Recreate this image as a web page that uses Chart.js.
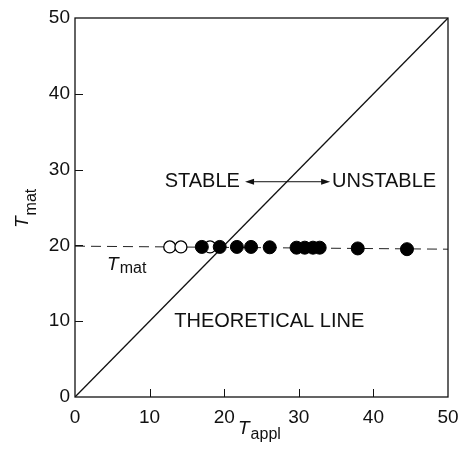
<!DOCTYPE html>
<html>
<head>
<meta charset="utf-8">
<script src="https://cdn.jsdelivr.net/npm/chart.js@4"></script>
<style>
  html, body { margin: 0; padding: 0; background: #fff; }
  canvas { display: block; }
</style>
</head>
<body>
<canvas id="myChart" width="460" height="456" style="width:460px;height:456px"></canvas>
<script>
// tick values on both axes
var tickValues = [0, 10, 20, 30, 40, 50];

// theoretical line T_mat = T_appl
var theoryX = [0, 50];
var theoryY = [0, 50];

// measured T_mat level (dashed)
var tmatLineX = [0, 50];
var tmatLineY = [19.9, 19.5];

// open circles (stable)
var openX = [12.7, 14.2, 18.1];
var openY = [19.8, 19.8, 19.8];

// filled circles (unstable)
var filledX = [17.0, 19.4, 21.7, 23.6, 26.1, 29.7, 30.8, 31.9, 32.8, 37.9, 44.5];
var filledY = [19.8, 19.8, 19.8, 19.8, 19.75, 19.7, 19.7, 19.7, 19.7, 19.6, 19.5];

function pts(xs, ys) {
  return xs.map(function (x, i) { return { x: x, y: ys[i] }; });
}

var FONT = '"Liberation Sans", Arial, Helvetica, sans-serif';

// frame, inward ticks, labels with subscripts
var overlay = {
  id: 'overlay',
  afterDraw: function (chart) {
    var c = chart.ctx, a = chart.chartArea;
    var xs = chart.scales.x, ys = chart.scales.y;
    c.save();
    c.strokeStyle = '#111';
    c.lineWidth = 1.3;
    c.strokeRect(a.left, a.top, a.right - a.left, a.bottom - a.top);

    c.lineWidth = 1;
    tickValues.slice(1, -1).forEach(function (v) {
      var px = Math.round(xs.getPixelForValue(v)) + 0.5;
      c.beginPath(); c.moveTo(px, a.bottom); c.lineTo(px, a.bottom - 8); c.stroke();
      var py = Math.round(ys.getPixelForValue(v)) + 0.5;
      c.beginPath(); c.moveTo(a.left, py); c.lineTo(a.left + 8, py); c.stroke();
    });

    c.fillStyle = '#111';
    c.textBaseline = 'middle';
    c.font = '20px ' + FONT;

    // STABLE <-> UNSTABLE
    var yA = ys.getPixelForValue(28.4);
    c.textAlign = 'right';
    c.fillText('STABLE', xs.getPixelForValue(22.1), yA);
    c.textAlign = 'left';
    c.fillText('UNSTABLE', xs.getPixelForValue(34.45), yA);
    var x1 = xs.getPixelForValue(22.8), x2 = xs.getPixelForValue(34.2);
    c.beginPath(); c.moveTo(x1 + 6, yA); c.lineTo(x2 - 6, yA); c.stroke();
    c.beginPath(); c.moveTo(x1, yA); c.lineTo(x1 + 9, yA - 3); c.lineTo(x1 + 9, yA + 3); c.closePath(); c.fill();
    c.beginPath(); c.moveTo(x2, yA); c.lineTo(x2 - 9, yA - 3); c.lineTo(x2 - 9, yA + 3); c.closePath(); c.fill();

    // THEORETICAL LINE
    c.fillText('THEORETICAL LINE', xs.getPixelForValue(13.3), ys.getPixelForValue(10.0));

    // T_mat label in plot
    c.textBaseline = 'alphabetic';
    var tx = xs.getPixelForValue(4.3), ty = ys.getPixelForValue(16.75);
    c.font = 'italic 19px ' + FONT;
    c.fillText('T', tx, ty);
    var tw = c.measureText('T').width;
    c.font = '16px ' + FONT;
    c.fillText('mat', tx + tw + 1, ty + 3);

    // x axis title T_appl
    c.font = 'italic 19px ' + FONT;
    c.fillText('T', 238, 434);
    tw = c.measureText('T').width;
    c.font = '16px ' + FONT;
    c.fillText('appl', 238 + tw + 1, 439);

    // y axis title T_mat (rotated)
    c.translate(28, 228);
    c.rotate(-Math.PI / 2);
    c.font = 'italic 19px ' + FONT;
    c.fillText('T', 0, 0);
    tw = c.measureText('T').width;
    c.font = '16px ' + FONT;
    c.fillText('mat', tw + 1, 8);
    c.restore();
  }
};

var ctx = document.getElementById('myChart');
var myChart = new Chart(ctx, {
  type: 'scatter',
  data: {
    datasets: [
      {
        data: pts(filledX, filledY),
        backgroundColor: '#000',
        borderColor: '#000',
        borderWidth: 1,
        pointRadius: 6.5,
        order: 0
      },
      {
        data: pts(openX, openY),
        backgroundColor: '#fff',
        borderColor: '#000',
        borderWidth: 1.3,
        pointRadius: 6,
        order: 1
      },
      {
        type: 'line',
        data: pts(tmatLineX, tmatLineY),
        borderColor: '#222',
        borderWidth: 1,
        borderDash: [10, 6],
        pointRadius: 0,
        fill: false,
        order: 2
      },
      {
        type: 'line',
        data: pts(theoryX, theoryY),
        borderColor: '#111',
        borderWidth: 1.3,
        pointRadius: 0,
        fill: false,
        order: 3
      }
    ]
  },
  options: {
    responsive: false,
    animation: false,
    devicePixelRatio: 1,
    layout: { padding: { top: 18, right: 12, left: 0, bottom: 0 } },
    plugins: { legend: { display: false }, tooltip: { enabled: false } },
    scales: {
      x: {
        type: 'linear',
        min: 0, max: 50,
        afterBuildTicks: function (s) { s.ticks = tickValues.map(function (v) { return { value: v }; }); },
        afterFit: function (s) { s.height = 59; s.paddingLeft = 0; s.paddingRight = 0; },
        grid: { display: false, drawTicks: false },
        border: { display: false },
        ticks: { color: '#111', padding: 9, font: { family: FONT, size: 19 } }
      },
      y: {
        type: 'linear',
        min: 0, max: 50,
        afterBuildTicks: function (s) { s.ticks = tickValues.map(function (v) { return { value: v }; }); },
        afterFit: function (s) { s.width = 75; s.paddingTop = 0; s.paddingBottom = 0; },
        grid: { display: false, drawTicks: false },
        border: { display: false },
        ticks: { color: '#111', padding: 5, font: { family: FONT, size: 19 } }
      }
    }
  },
  plugins: [overlay]
});
</script>
</body>
</html>
